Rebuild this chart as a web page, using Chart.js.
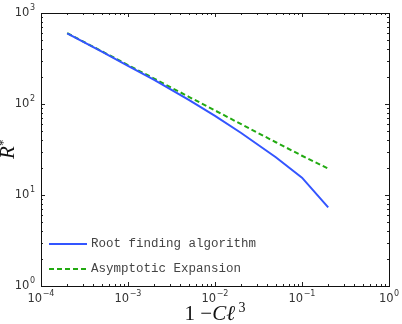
<!DOCTYPE html>
<html lang="en">
<head>
    <meta charset="UTF-8">
    <title>R* vs 1 - Cl^3</title>
    <style>
        body {
            margin: 0;
            background: #fff;
        }

        #chart-container {
            width: 402px;
            height: 324px;
        }
    </style>
</head>
<body>
    <div id="chart-container">
        <canvas id="r-chart"></canvas>
    </div>

    <script src="https://cdn.jsdelivr.net/npm/chart.js"></script>
    <script>
        // values
        const xValues = [2e-4, 5e-4, 1e-3, 2e-3, 5e-3, 1e-2, 2e-2, 5e-2, 1e-1, 2e-1];
        const rootFinding = [598, 376, 263, 184, 111, 74, 48, 26, 15.5, 7.3];
        const asymptotic = [600, 380, 268, 190, 120, 85, 60, 38, 27, 19.5];

        const seriesNames = ['Root finding algorithm', 'Asymptotic Expansion'];
        const xExponents = [-4, -3, -2, -1, 0];
        const yExponents = [0, 1, 2, 3];

        const blue = '#3355ff';
        const green = '#22aa11';

        function toPoints(ys) {
            return xValues.map((x, i) => ({ x: x, y: ys[i] }));
        }

        function supLabel(ctx, exp, x, y, align) {
            const base = '10';
            const sup = exp < 0 ? '\u2212' + Math.abs(exp) : String(exp);
            ctx.font = '11.5px "DejaVu Sans"';
            const wb = ctx.measureText(base).width;
            ctx.font = '8px "DejaVu Sans"';
            const ws = ctx.measureText(sup).width;
            const total = wb + ws + 0.5;
            let left = align === 'right' ? x - total : x - total / 2;
            ctx.textBaseline = 'middle';
            ctx.textAlign = 'left';
            ctx.fillStyle = '#333';
            ctx.font = '11.5px "DejaVu Sans"';
            ctx.fillText(base, left, y);
            ctx.font = '8px "DejaVu Sans"';
            ctx.fillText(sup, left + wb + 0.5, y - 5);
        }

        const framePlugin = {
            id: 'frame',
            afterDraw(chart) {
                const ctx = chart.ctx;
                const area = chart.chartArea;
                const xs = chart.scales.x;
                const ys = chart.scales.y;
                ctx.save();

                // ticks pointing inward on all four sides
                ctx.strokeStyle = '#222';
                ctx.lineWidth = 1;
                ctx.beginPath();
                xExponents.forEach((e, i) => {
                    const pts = [[Math.pow(10, e), 4]];
                    if (i < xExponents.length - 1) {
                        for (let m = 2; m < 10; m++) pts.push([m * Math.pow(10, e), 2]);
                    }
                    pts.forEach(([v, len]) => {
                        const px = Math.round(xs.getPixelForValue(v)) + 0.5;
                        ctx.moveTo(px, area.bottom);
                        ctx.lineTo(px, area.bottom - len);
                        ctx.moveTo(px, area.top);
                        ctx.lineTo(px, area.top + len);
                    });
                });
                yExponents.forEach((e, i) => {
                    const pts = [[Math.pow(10, e), 4]];
                    if (i < yExponents.length - 1) {
                        for (let m = 2; m < 10; m++) pts.push([m * Math.pow(10, e), 2]);
                    }
                    pts.forEach(([v, len]) => {
                        const py = Math.round(ys.getPixelForValue(v)) + 0.5;
                        ctx.moveTo(area.left, py);
                        ctx.lineTo(area.left + len, py);
                        ctx.moveTo(area.right, py);
                        ctx.lineTo(area.right - len, py);
                    });
                });
                ctx.stroke();

                // frame
                ctx.strokeStyle = '#111';
                ctx.strokeRect(Math.round(area.left) + 0.5, Math.round(area.top) + 0.5,
                    Math.round(area.right - area.left), Math.round(area.bottom - area.top));

                // tick labels
                xExponents.forEach(e => {
                    supLabel(ctx, e, xs.getPixelForValue(Math.pow(10, e)), area.bottom + 13, 'center');
                });
                yExponents.forEach(e => {
                    supLabel(ctx, e, area.left - 6, ys.getPixelForValue(Math.pow(10, e)), 'right');
                });

                // x axis title: 1 −Cℓ³
                ctx.fillStyle = '#111';
                ctx.textBaseline = 'alphabetic';
                ctx.textAlign = 'left';
                const parts = [
                    { t: '1 \u2212', f: '21px "Liberation Serif"', dy: 0 },
                    { t: 'C\u2113', f: 'italic 21px "Liberation Serif"', dy: 0 },
                    { t: ' 3', f: '14px "Liberation Serif"', dy: -8 }
                ];
                let tw = 0;
                parts.forEach(p => { ctx.font = p.f; p.w = ctx.measureText(p.t).width; tw += p.w; });
                let cx = (area.left + area.right) / 2 - tw / 2;
                parts.forEach(p => {
                    ctx.font = p.f;
                    ctx.fillText(p.t, cx, 320 + p.dy);
                    cx += p.w;
                });

                // y axis title: R*
                ctx.save();
                ctx.translate(14, (area.top + area.bottom) / 2);
                ctx.rotate(-Math.PI / 2);
                ctx.font = 'italic 21px "Liberation Serif"';
                ctx.textAlign = 'left';
                const rw = ctx.measureText('R').width;
                ctx.fillText('R', -rw / 2 - 3, 0);
                ctx.font = '13px "Liberation Serif"';
                ctx.fillText('*', rw / 2 - 3, -7);
                ctx.restore();

                // legend in lower left
                const legendRows = [
                    { label: seriesNames[0], color: blue, dash: [], y: 244 },
                    { label: seriesNames[1], color: green, dash: [5, 3], y: 269 }
                ];
                legendRows.forEach(r => {
                    ctx.strokeStyle = r.color;
                    ctx.lineWidth = 2;
                    ctx.setLineDash(r.dash);
                    ctx.beginPath();
                    ctx.moveTo(area.left + 8, r.y);
                    ctx.lineTo(area.left + 46, r.y);
                    ctx.stroke();
                    ctx.setLineDash([]);
                    ctx.fillStyle = '#444';
                    ctx.font = '12.5px "Liberation Mono"';
                    ctx.textBaseline = 'middle';
                    ctx.fillText(r.label, area.left + 50, r.y);
                });

                ctx.restore();
            }
        };

        const ctx = document.getElementById('r-chart').getContext('2d');
        const chart = new Chart(ctx, {
            type: 'line',
            data: {
                datasets: [
                    {
                        label: seriesNames[0],
                        data: toPoints(rootFinding),
                        borderColor: blue,
                        borderWidth: 2,
                        pointRadius: 0,
                        fill: false,
                        tension: 0
                    },
                    {
                        label: seriesNames[1],
                        data: toPoints(asymptotic),
                        borderColor: green,
                        borderWidth: 2,
                        borderDash: [5, 3],
                        pointRadius: 0,
                        fill: false,
                        tension: 0
                    }
                ]
            },
            options: {
                responsive: true,
                maintainAspectRatio: false,
                animation: false,
                layout: {
                    padding: { left: 41, right: 13, top: 13, bottom: 38 }
                },
                plugins: {
                    legend: { display: false },
                    tooltip: { enabled: false }
                },
                scales: {
                    x: {
                        type: 'logarithmic',
                        min: 1e-4,
                        max: 1,
                        ticks: { display: false },
                        grid: { display: false },
                        border: { display: false },
                        afterFit(scale) { scale.height = 0; }
                    },
                    y: {
                        type: 'logarithmic',
                        min: 1,
                        max: 1000,
                        ticks: { display: false },
                        grid: { display: false },
                        border: { display: false },
                        afterFit(scale) { scale.width = 0; }
                    }
                }
            },
            plugins: [framePlugin]
        });
    </script>
</body>
</html>
